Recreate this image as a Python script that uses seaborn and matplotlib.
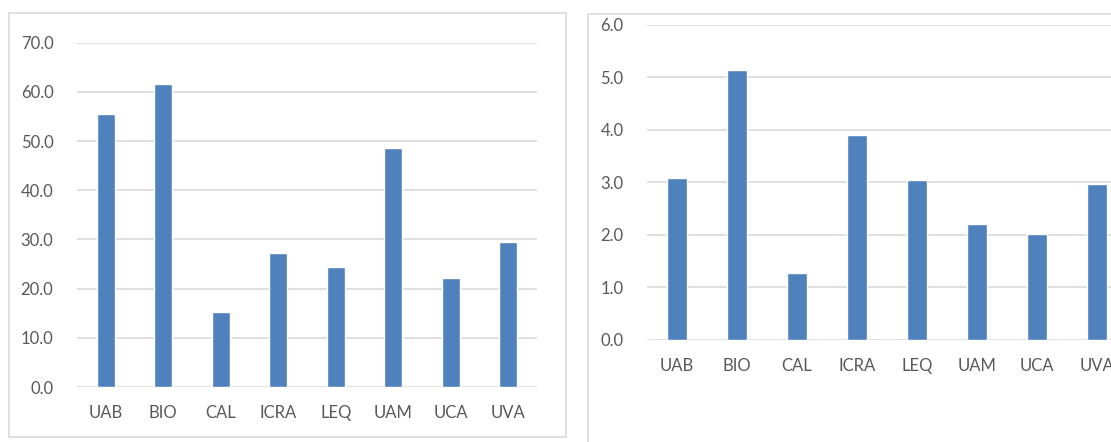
import pandas as pd
import matplotlib.pyplot as plt
from matplotlib.patches import Rectangle
import seaborn as sns

# data
groups = ['UAB', 'BIO', 'CAL', 'ICRA', 'LEQ', 'UAM', 'UCA', 'UVA']
left_values = [55.6, 61.6, 15.3, 27.3, 24.4, 48.6, 22.2, 29.5]
right_values = [3.08, 5.13, 1.27, 3.89, 3.04, 2.21, 2.02, 2.96]
left_ticks = [0, 10, 20, 30, 40, 50, 60, 70]
right_ticks = [0, 1, 2, 3, 4, 5, 6]

bar_color = '#4F81BD'
grid_color = '#D9D9D9'
text_color = '#595959'

sns.set_style('white')
plt.rcParams['font.family'] = ['Lato', 'DejaVu Sans']

fig = plt.figure(figsize=(11.11, 4.42), dpi=100)

# chart frames like the Excel chart areas
fig.add_artist(Rectangle((0.0081, 0.0113), 0.5014, 0.9593, transform=fig.transFigure,
                         fill=False, edgecolor=grid_color, linewidth=1.2))
fig.add_artist(Rectangle((0.5292, -0.02), 0.5, 0.9883, transform=fig.transFigure,
                         fill=False, edgecolor=grid_color, linewidth=1.2))

ax1 = fig.add_axes([0.0693, 0.1244, 0.414, 0.779])
ax2 = fig.add_axes([0.5824, 0.2319, 0.432, 0.7122])

panels = [
    (ax1, left_values, left_ticks, 0.31),
    (ax2, right_values, right_ticks, 0.32),
]

for ax, vals, ticks, w in panels:
    df = pd.DataFrame({'group': groups, 'value': vals})
    sns.barplot(data=df, x='group', y='value', color=bar_color, width=w,
                saturation=1, ax=ax)
    ax.set_xlim(-0.5, len(groups) - 0.5)
    ax.set_ylim(0, ticks[-1])
    ax.set_yticks(ticks)
    ax.set_yticklabels([f'{t:.1f}' for t in ticks])
    ax.set_xlabel('')
    ax.set_ylabel('')
    ax.set_axisbelow(True)
    ax.yaxis.grid(True, color=grid_color, linewidth=1.2)
    for s in ax.spines.values():
        s.set_visible(False)
    ax.tick_params(axis='both', length=0, labelsize=12, labelcolor=text_color)
    ax.tick_params(axis='y', pad=17)
    ax.tick_params(axis='x', pad=13)
    ax.patch.set_alpha(0)

fig.savefig('out.png', dpi=100)
